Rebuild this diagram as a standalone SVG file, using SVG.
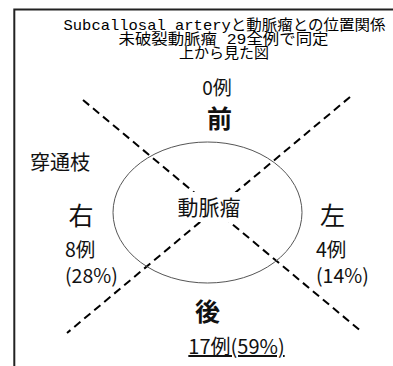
<svg xmlns="http://www.w3.org/2000/svg" width="393" height="366" viewBox="0 0 393 366">
<style>
.title{font-family:"Liberation Mono","Noto Sans CJK JP",monospace;font-size:15px;fill:#000}
.lbl{font-family:"Noto Sans CJK JP","Noto Sans",sans-serif;fill:#111}
.dash{stroke:#000;stroke-width:2;stroke-dasharray:8 5;fill:none}
</style>
<rect width="393" height="366" fill="#fff"/>
<path d="M393,9.5 H14.3 V366" fill="none" stroke="#222" stroke-width="2"/>
<g id="title">
<text class="title" x="224.5" y="30" text-anchor="middle" textLength="322" lengthAdjust="spacingAndGlyphs">Subcallosal arteryと動脈瘤との位置関係</text>
<text class="title" x="223.5" y="44" text-anchor="middle" textLength="210" lengthAdjust="spacingAndGlyphs">未破裂動脈瘤 29全例で同定</text>
<text class="title" x="224" y="57.5" text-anchor="middle">上から見た図</text>
</g>
<g id="connectors">
<line class="dash" x1="83" y1="100" x2="362" y2="332"/>
<line class="dash" x1="350" y1="97" x2="67" y2="333"/>
</g>
<g id="aneurysm">
<ellipse cx="207.5" cy="212.5" rx="94.5" ry="70.5" fill="none" stroke="#555" stroke-width="1"/>
<rect x="181" y="192" width="58" height="30" fill="#fff"/>
<text class="lbl" x="209" y="215" font-size="21" text-anchor="middle">動脈瘤</text>
</g>
<g id="anterior">
<text class="lbl" x="217" y="95" font-size="19" text-anchor="middle">0例</text>
<text class="lbl" x="219.5" y="128" font-size="25" font-weight="bold" text-anchor="middle">前</text>
</g>
<g id="perforator">
<text class="lbl" x="30" y="170" font-size="20">穿通枝</text>
</g>
<g id="right">
<text class="lbl" x="81" y="225" font-size="25" text-anchor="middle">右</text>
<text class="lbl" x="65" y="257" font-size="19.5">8例</text>
<text class="lbl" x="65" y="283" font-size="19.5">(28%)</text>
</g>
<g id="left">
<text class="lbl" x="332.5" y="225" font-size="25" text-anchor="middle">左</text>
<text class="lbl" x="316" y="257" font-size="19.5">4例</text>
<text class="lbl" x="316" y="283" font-size="19.5">(14%)</text>
</g>
<g id="posterior">
<text class="lbl" x="207.5" y="321" font-size="25" font-weight="bold" text-anchor="middle">後</text>
<text class="lbl" x="236.5" y="354" font-size="20" text-anchor="middle" text-decoration="underline">17例(59%)</text>
</g>
</svg>
